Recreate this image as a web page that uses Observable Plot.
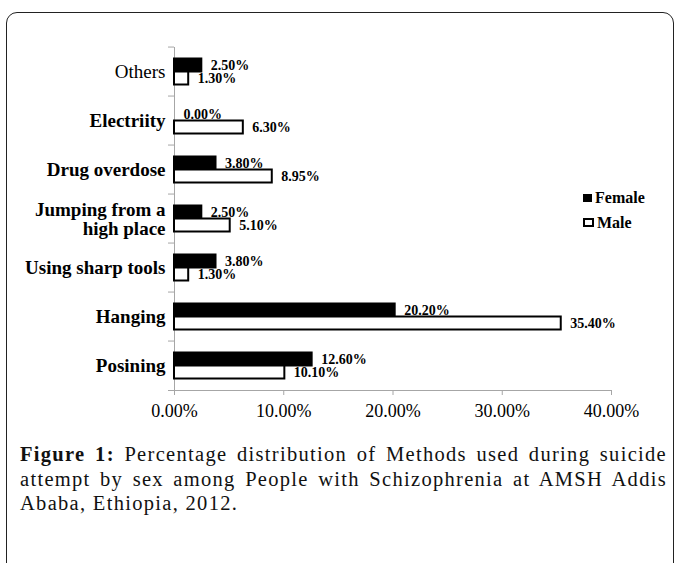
<!DOCTYPE html>
<html>
<head>
<meta charset="utf-8">
<script src="https://cdn.jsdelivr.net/npm/d3@7"></script>
<script src="https://cdn.jsdelivr.net/npm/@observablehq/plot@0.6"></script>
<style>
  html, body { margin: 0; padding: 0; background: #fff; }
  body { width: 678px; height: 563px; position: relative; overflow: hidden; font-family: "Liberation Serif", "Times New Roman", serif; }
  .box { position: absolute; left: 6px; top: 12px; width: 668px; height: 600px; border: 1.6px solid #222; border-radius: 11px; box-sizing: border-box; }
  #chart { position: absolute; left: 0; top: 0; }
  .legend { position: absolute; left: 583px; top: 185px; font-weight: bold; font-size: 16px; color: #000; }
  .legend .row { display: flex; align-items: center; height: 25px; }
  .legend .sw { display: inline-block; box-sizing: border-box; margin-right: 3px; }
  .caption { position: absolute; left: 20px; top: 442px; width: 647px; font-size: 20.5px; line-height: 24.5px; color: #111; letter-spacing: 1.3px; white-space: nowrap; }
  .caption .j { display: block; text-align: justify; text-align-last: justify; white-space: normal; }
  .caption .l { display: block; }
</style>
</head>
<body>
<div class="box"></div>
<div id="chart"></div>
<div class="legend" id="legend"></div>
<div class="caption">
  <span class="j"><b>Figure 1:</b> Percentage distribution of Methods used during suicide</span>
  <span class="j">attempt by sex among People with Schizophrenia at AMSH Addis</span>
  <span class="l">Ababa, Ethiopia, 2012.</span>
</div>
<script>
const categories = ["Others", "Electriity", "Drug overdose", "Jumping from a\nhigh place", "Using sharp tools", "Hanging", "Posining"];
const sexes = ["Female", "Male"];
const female = [2.5, 0.0, 3.8, 2.5, 3.8, 20.2, 12.6];
const male = [1.3, 6.3, 8.95, 5.1, 1.3, 35.4, 10.1];
const xTicks = [0, 10, 20, 30, 40];

const rows = categories.flatMap((c, i) => [
  {category: c, sex: "Female", value: female[i]},
  {category: c, sex: "Male", value: male[i]}
]);

const H = 425, MT = 43.5, MB = 32.3;
const band = (H - MT - MB) / categories.length;
const pct = d => d.toFixed(2) + "%";
const axisGray = "#a6a6a6";

const chart = Plot.plot({
  width: 678,
  height: H,
  marginLeft: 174,
  marginRight: 67,
  marginTop: MT,
  marginBottom: MB,
  style: {fontFamily: "'Liberation Serif', 'Times New Roman', serif", color: "#000", background: "transparent", overflow: "visible"},
  x: {domain: [0, 40], ticks: xTicks},
  fy: {domain: categories, padding: 0, label: null},
  y: {domain: sexes, paddingInner: 0, paddingOuter: 0.82, axis: null},
  color: {domain: sexes, range: ["#000", "#fff"]},
  marks: [
    Plot.frame({anchor: "left", facet: "super", stroke: axisGray}),
    Plot.frame({anchor: "bottom", facet: "super", stroke: axisGray, insetLeft: -6}),
    Plot.axisFy({anchor: "left", tickSize: 6, tickFormat: () => "", stroke: axisGray, dy: -band / 2, label: null}),
    Plot.axisX({ticks: xTicks, tickSize: 5, tickPadding: 9, tickFormat: pct, fontSize: 18, stroke: axisGray, label: null}),
    Plot.barX(rows, {fy: "category", y: "sex", x: "value", fill: "sex", stroke: "#000", strokeWidth: 2}),
    Plot.text(rows, {fy: "category", y: "sex", x: "value", text: d => pct(d.value), dx: 9, textAnchor: "start", fontWeight: "bold", fontSize: 14, fill: "#000"}),
    Plot.text(categories.filter(c => c !== "Others"), {fy: d => d, text: d => d, frameAnchor: "left", textAnchor: "end", dx: -9, fontSize: 19, fontWeight: "bold", lineHeight: 1.0, fill: "#000"}),
    Plot.text(categories.filter(c => c === "Others"), {fy: d => d, text: d => d, frameAnchor: "left", textAnchor: "end", dx: -9, fontSize: 19, fontWeight: "normal", fill: "#000"})
  ]
});
document.getElementById("chart").append(chart);

const legend = document.getElementById("legend");
sexes.forEach((s, i) => {
  const row = document.createElement("div");
  row.className = "row";
  const sw = document.createElement("span");
  sw.className = "sw";
  if (i === 0) { sw.style.width = "9px"; sw.style.height = "8px"; sw.style.background = "#000"; }
  else { sw.style.width = "11px"; sw.style.height = "9px"; sw.style.background = "#fff"; sw.style.border = "2px solid #000"; }
  const t = document.createElement("span");
  t.textContent = s;
  row.append(sw, t);
  legend.append(row);
});
</script>
</body>
</html>
